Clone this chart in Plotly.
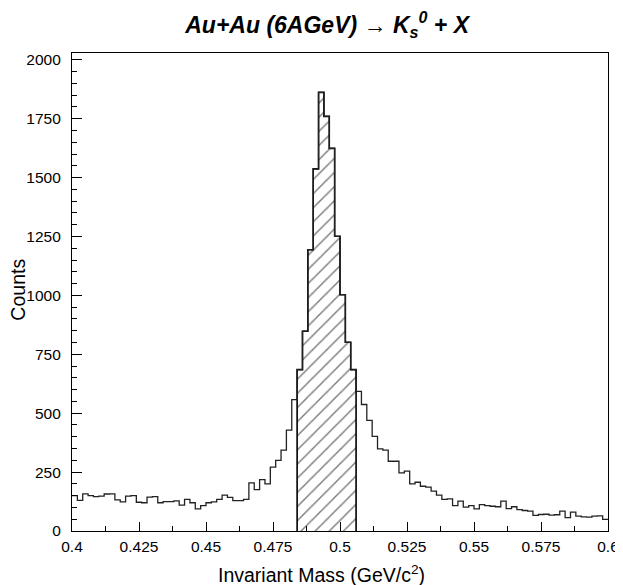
import plotly.graph_objects as go

# ---- data -------------------------------------------------------------
mass_min = 0.4
mass_max = 0.6
n_bins = 100
counts = [
    150, 130, 158, 150, 146, 148, 157, 158, 132, 124,
    148, 150, 122, 120, 144, 146, 120, 125, 125, 128,
    110, 134, 120, 94, 108, 120, 124, 134, 152, 143,
    129, 129, 134, 204, 176, 218, 200, 271, 300, 343,
    428, 558, 685, 848, 1194, 1537, 1862, 1760, 1624, 1251,
    1003, 801, 685, 593, 537, 470, 402, 349, 343, 296,
    296, 247, 254, 200, 207, 190, 186, 169, 152, 134,
    136, 108, 127, 101, 108, 94, 112, 108, 105, 103,
    127, 95, 103, 91, 87, 84, 66, 70, 71, 67,
    69, 84, 57, 80, 63, 60, 59, 63, 64, 49,
]
signal_first_bin = 42
signal_last_bin = 52
x_ticks = [0.4, 0.425, 0.45, 0.475, 0.5, 0.525, 0.55, 0.575, 0.6]
x_tick_text = ["0.4", "0.425", "0.45", "0.475", "0.5", "0.525", "0.55", "0.575", "0.6"]
y_ticks = [0, 250, 500, 750, 1000, 1250, 1500, 1750, 2000]
y_tick_text = ["0", "250", "500", "750", "1000", "1250", "1500", "1750", "2000"]

bin_w = (mass_max - mass_min) / n_bins
edges = [mass_min + i * bin_w for i in range(n_bins + 1)]

fig = go.Figure()

# hatched signal region
sx, sy = [edges[signal_first_bin]], [0]
for i in range(signal_first_bin, signal_last_bin + 1):
    sx += [edges[i], edges[i + 1]]
    sy += [counts[i], counts[i]]
sx.append(edges[signal_last_bin + 1])
sy.append(0)
fig.add_trace(go.Scatter(
    x=sx, y=sy, mode="lines", fill="toself",
    fillcolor="rgba(255,255,255,0)",
    fillpattern=dict(shape="/", fgcolor="black", bgcolor="white", size=10, solidity=0.15),
    line=dict(color="black", width=1.6), hoverinfo="skip", showlegend=False,
))

# outline histogram
fig.add_trace(go.Scatter(
    x=edges, y=counts + [counts[-1]], mode="lines", line_shape="hv",
    line=dict(color="#222", width=1.3), showlegend=False,
))

font = "Liberation Sans, Arial, sans-serif"
W, H = 615, 577
fig.update_layout(
    width=W, height=H,
    margin=dict(l=64, r=15, t=45, b=53.5),
    paper_bgcolor="white", plot_bgcolor="white",
    font=dict(family=font, color="black"),
    title=dict(
        text="<b><i>Au+Au (6AGeV)</i></b> \u2192 <b><i>K<sub>s</sub><sup>0</sup> + X</i></b>",
        x=0.476, xref="paper", xanchor="center",
        y=1 - 17 / H, yref="container", yanchor="middle",
        font=dict(size=23, family=font),
    ),
    xaxis=dict(
        range=[mass_min, mass_max], tickvals=x_ticks, ticktext=x_tick_text,
        ticks="inside", ticklen=9, tickwidth=1, tickcolor="black",
        minor=dict(dtick=0.0125, tick0=0.4, ticks="inside", ticklen=4.5, tickcolor="black"),
        showline=True, linecolor="black", linewidth=1.2, mirror=True,
        showgrid=False, zeroline=False, tickfont=dict(size=15.5),
        ticklabelstandoff=1, automargin=False,
    ),
    yaxis=dict(
        range=[0, 2029], tickvals=y_ticks, ticktext=y_tick_text,
        ticks="inside", ticklen=10, tickwidth=1, tickcolor="black",
        minor=dict(dtick=50, tick0=0, ticks="inside", ticklen=5, tickcolor="black"),
        showline=True, linecolor="black", linewidth=1.2, mirror=True,
        showgrid=False, zeroline=False, tickfont=dict(size=15.5),
        ticklabelstandoff=7, automargin=False,
    ),
    annotations=[
        dict(text="Invariant Mass (GeV/c<sup>2</sup>)", xref="paper", yref="paper",
             x=0.4646, y=-0.091, xanchor="center", yanchor="middle", showarrow=False,
             font=dict(size=19.5)),
        dict(text="Counts", xref="paper", yref="paper", textangle=-90,
             x=-0.1007, y=0.505, xanchor="center", yanchor="middle", showarrow=False,
             font=dict(size=19.5)),
    ],
)

fig.write_html("out.html")
